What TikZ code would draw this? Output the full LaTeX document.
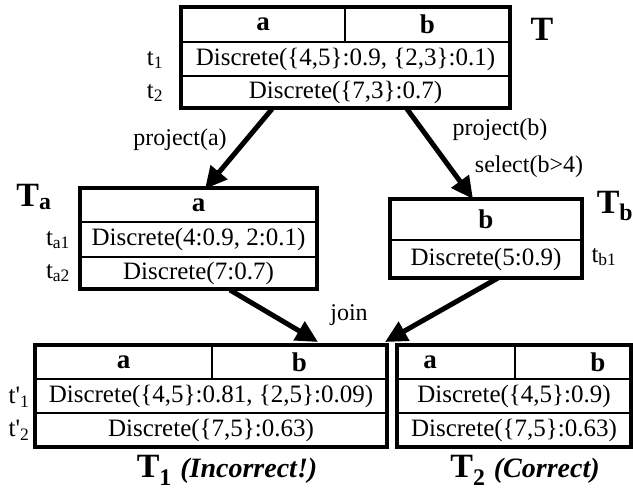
\documentclass[tikz,border=0pt]{standalone}
\usepackage{fontspec}
\setmainfont{Liberation Serif}
\newfontfamily\plainserif{Liberation Serif}
\usetikzlibrary{arrows.meta}
\begin{document}
\begin{tikzpicture}[x=1pt,y=-1pt,
  cell/.style={draw, line width=2pt, inner sep=0pt, font=\fontsize{25}{28}\selectfont},
  hdr/.style={cell, font=\bfseries\fontsize{27}{30}\selectfont},
  frame/.style={draw, line width=3.5pt, inner sep=0pt},
  lab/.style={inner sep=0pt, font=\fontsize{25}{28}\selectfont},
  oplab/.style={inner sep=0pt, font=\fontsize{24}{27}\selectfont},
  title/.style={inner sep=0pt, font=\bfseries\fontsize{34}{38}\selectfont},
  arr/.style={line width=5pt, -{Triangle[length=22pt,width=21pt]}}
]
\useasboundingbox (0,0) rectangle (633,489);

% ---- Table T
\node[hdr, minimum width=164pt, minimum height=35pt] (Tha) at (263,24.5) {a};
\node[hdr, minimum width=165pt, minimum height=35pt] (Thb) at (427.5,24.5) {b};
\node[cell, minimum width=329pt, minimum height=34pt] (Tr1) at (345.5,59) {Discrete(\{4,5\}:0.9, \{2,3\}:0.1)};
\node[cell, minimum width=329pt, minimum height=32pt] (Tr2) at (345.5,92) {Discrete(\{7,3\}:0.7)};
\node[frame, minimum width=329pt, minimum height=101pt] (T) at (345.5,57.5) {};
\node[title] (Tt) at (542,29) {T};
\node[lab] (t1) at (155,60) {t\textsubscript{1}};
\node[lab] (t2) at (155,93) {t\textsubscript{2}};

% ---- Table Ta
\node[hdr, minimum width=237pt, minimum height=34pt] (Taha) at (198.5,205) {a};
\node[cell, minimum width=237pt, minimum height=35pt] (Tar1) at (198.5,239.5) {Discrete(4:0.9, 2:0.1)};
\node[cell, minimum width=237pt, minimum height=32pt] (Tar2) at (198.5,273) {Discrete(7:0.7)};
\node[frame, minimum width=237pt, minimum height=101pt] (Ta) at (198.5,238.5) {};
\node[title] (Tat) at (34,197) {T\textsubscript{a}};
\node[lab] (ta1) at (58,240) {t\textsubscript{a1}};
\node[lab] (ta2) at (58,273) {t\textsubscript{a2}};

% ---- Table Tb
\node[hdr, minimum width=192pt, minimum height=41pt] (Tbhb) at (486,219.5) {b};
\node[cell, minimum width=192pt, minimum height=38pt] (Tbr1) at (486,259) {Discrete(5:0.9)};
\node[frame, minimum width=192pt, minimum height=79pt] (Tb) at (486,238.5) {};
\node[title] (Tbt) at (615,206) {T\textsubscript{b}};
\node[lab] (tb1) at (604,257) {t\textsubscript{b1}};

% ---- Table T1
\node[hdr, minimum width=177pt, minimum height=34pt] (T1ha) at (123.5,362) {a};
\node[hdr, minimum width=175pt, minimum height=34pt] (T1hb) at (299.5,362) {b};
\node[cell, minimum width=352pt, minimum height=34pt] (T1r1) at (211,396) {Discrete(\{4,5\}:0.81, \{2,5\}:0.09)};
\node[cell, minimum width=352pt, minimum height=34pt] (T1r2) at (211,430) {Discrete(\{7,5\}:0.63)};
\node[frame, minimum width=352pt, minimum height=102pt] (T1) at (211,396) {};
\node[title, anchor=base] (T1t) at (227,478) {T\textsubscript{1} \textit{\fontsize{28}{30}\selectfont(Incorrect!)}};
\node[lab] (tp1) at (19,397) {t{\plainserif '}\textsubscript{1}};
\node[lab] (tp2) at (19,430) {t{\plainserif '}\textsubscript{2}};

% ---- Table T2
\node[cell, minimum width=118pt, minimum height=34pt] (T2ha) at (456,362) {};
\node[cell, minimum width=116pt, minimum height=34pt] (T2hb) at (573,362) {};
\node[hdr, draw=none] (T2a) at (430,362) {a};
\node[hdr, draw=none] (T2b) at (598,362) {b};
\node[cell, minimum width=234pt, minimum height=34pt] (T2r1) at (514,396) {Discrete(\{4,5\}:0.9)};
\node[cell, minimum width=234pt, minimum height=34pt] (T2r2) at (514,430) {Discrete(\{7,5\}:0.63)};
\node[frame, minimum width=234pt, minimum height=102pt] (T2) at (514,396) {};
\node[title, anchor=base] (T2t) at (525,478) {T\textsubscript{2} \textit{\fontsize{28}{30}\selectfont(Correct)}};

% ---- Connectors
\coordinate (sA) at (272,109);
\coordinate (eA) at (205,189);
\coordinate (sB) at (407,109);
\coordinate (eB) at (473,199);
\coordinate (sC) at (230,290);
\coordinate (eC) at (318,342);
\coordinate (sD) at (498,278);
\coordinate (eD) at (385,342);
\draw[arr] (sA) -- (eA);
\draw[arr] (sB) -- (eB);
\draw[arr] (sC) -- (eC);
\draw[arr] (sD) -- (eD);

\node[oplab] (pa) at (180,140) {project(a)};
\node[oplab] (pb) at (500,130) {project(b)};
\node[oplab] (sb) at (529,167) {select(b>4)};
\node[oplab] (jn) at (349,315) {join};
\end{tikzpicture}
\end{document}
